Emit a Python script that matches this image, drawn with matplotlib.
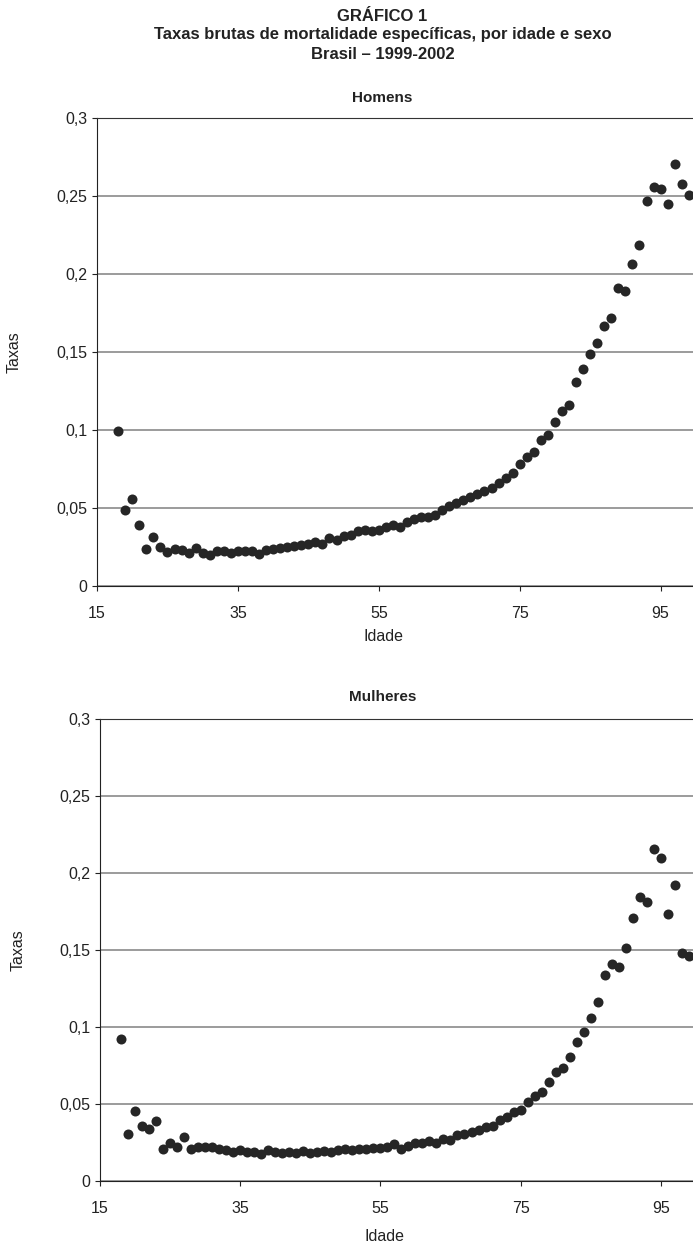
import numpy as np
import matplotlib
matplotlib.use("Agg")
import matplotlib.pyplot as plt

plt.rcParams['font.family'] = ['Liberation Sans', 'DejaVu Sans']

# idades 18 a 99
idades = np.arange(18, 100)

# taxas - homens
taxas_homens = [
    0.0996, 0.049, 0.056, 0.039, 0.0235, 0.0314, 0.0248, 0.022, 0.0235, 0.0228,
    0.0211, 0.0244, 0.0214, 0.0199, 0.0222, 0.0222, 0.021, 0.0222, 0.0222, 0.0222,
    0.0205, 0.023, 0.024, 0.0245, 0.025, 0.0255, 0.0265, 0.027, 0.028, 0.027,
    0.031, 0.0295, 0.032, 0.033, 0.035, 0.036, 0.035, 0.036, 0.038, 0.039,
    0.038, 0.041, 0.043, 0.044, 0.0445, 0.0455, 0.049, 0.051, 0.053, 0.055,
    0.057, 0.059, 0.061, 0.063, 0.066, 0.069, 0.0726, 0.078, 0.083, 0.086,
    0.0936, 0.097, 0.105, 0.112, 0.116, 0.1306, 0.139, 0.1485, 0.156, 0.167,
    0.172, 0.191, 0.189, 0.2066, 0.2188, 0.2468, 0.256, 0.2547, 0.2447, 0.2705,
    0.258, 0.2504,
]

# taxas - mulheres
taxas_mulheres = [
    0.0922, 0.0307, 0.0453, 0.0356, 0.0339, 0.0387, 0.021, 0.0246, 0.0218, 0.0285,
    0.021, 0.022, 0.0224, 0.022, 0.021, 0.020, 0.019, 0.020, 0.019, 0.019,
    0.0173, 0.0203, 0.019, 0.018, 0.019, 0.0185, 0.0195, 0.018, 0.019, 0.0195,
    0.019, 0.020, 0.0205, 0.020, 0.021, 0.021, 0.0215, 0.0215, 0.022, 0.024,
    0.021, 0.023, 0.025, 0.025, 0.026, 0.025, 0.0275, 0.0264, 0.0296, 0.0307,
    0.0318, 0.0328, 0.035, 0.036, 0.0393, 0.0415, 0.0447, 0.0462, 0.0512, 0.0555,
    0.0577, 0.0641, 0.0706, 0.0734, 0.0803, 0.090, 0.0965, 0.1058, 0.116, 0.134,
    0.141, 0.139, 0.151, 0.171, 0.1844, 0.1811, 0.2157, 0.2098, 0.1732, 0.1922,
    0.1483, 0.1462,
]

yticks = [0, 0.05, 0.1, 0.15, 0.2, 0.25, 0.3]
ytick_labels = ['0', '0,05', '0,1', '0,15', '0,2', '0,25', '0,3']
xticks = [15, 35, 55, 75, 95]

fig = plt.figure(figsize=(6.93, 12.45), dpi=100)

titulo = ['GRÁFICO 1',
          'Taxas brutas de mortalidade específicas, por idade e sexo',
          'Brasil – 1999-2002']
for txt, y in zip(titulo, [0.9871, 0.9719, 0.9566]):
    fig.text(0.552, y, txt, ha='center', va='center', fontsize=12,
             fontweight='bold', color='#222222')


def painel(rect, taxas, nome, nome_y, xlab_y):
    ax = fig.add_axes(rect)
    ax.scatter(idades, taxas, s=52, color='#262626', zorder=3, linewidths=0)
    ax.set_xlim(15, 99.6)
    ax.set_ylim(0, 0.3)
    ax.set_xticks(xticks)
    ax.set_yticks(yticks)
    ax.set_yticklabels(ytick_labels)
    ax.yaxis.grid(True, color='#8a8a8a', linewidth=1.2)
    ax.set_axisbelow(True)
    ax.spines['right'].set_visible(False)
    ax.spines['top'].set_color('#333333')
    ax.spines['left'].set_color('#222222')
    ax.spines['bottom'].set_color('#222222')
    ax.tick_params(axis='both', direction='out', length=3.6, width=0.8,
                   labelsize=11.5, colors='#222222')
    ax.tick_params(axis='x', pad=11)
    ax.set_ylabel('Taxas', fontsize=11.5, color='#222222')
    ax.set_xlabel('Idade', fontsize=11.5, color='#222222')
    ax.yaxis.set_label_coords(-0.126, 0.5)
    ax.xaxis.set_label_coords(0.48, xlab_y)
    fig.text(0.552, nome_y, nome, ha='center', va='center', fontsize=11,
             fontweight='bold', color='#222222')
    return ax


painel([0.14, 0.5293, 0.86, 0.3759], taxas_homens, 'Homens', 0.9213, -0.092)
painel([0.1443, 0.0514, 0.8557, 0.3711], taxas_mulheres, 'Mulheres', 0.4402, -0.104)

fig.savefig('out.png', dpi=100)
